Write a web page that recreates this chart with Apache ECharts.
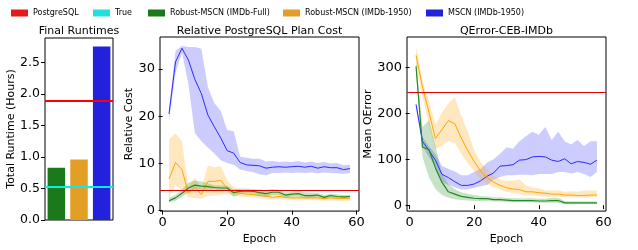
<!DOCTYPE html>
<html>
<head>
<meta charset="utf-8">
<script src="https://cdn.jsdelivr.net/npm/echarts@6/dist/echarts.min.js"></script>
<style>
  html, body { margin: 0; padding: 0; background: #fff; }
  #main { width: 638px; height: 250px; }
</style>
</head>
<body>
<div id="main"></div>
<script>
// Final runtimes (left panel)
const runtimeModels = ["Robust-MSCN (IMDb-Full)", "Robust-MSCN (IMDb-1950)", "MSCN (IMDb-1950)"];
const runtimeHours = [0.83, 0.96, 2.75];
const postgresRuntime = 1.89;
const trueRuntime = 0.53;

// training epochs (middle and right panels)
const epochs = [2, 4, 6, 8, 10, 12, 14, 16, 18, 20, 22, 24, 26, 28, 30, 32, 34, 36, 38, 40, 42, 44, 46, 48, 50, 52, 54, 56, 58];

// Relative PostgreSQL plan cost
const postgresCost = 4.4;
const costMscn = [20.5, 31.5, 34.4, 31.9, 27.8, 24.8, 20.3, 17.8, 15.4, 12.7, 12.2, 10.2, 9.7, 9.6, 9.5, 9.0, 9.2, 9.3, 9.2, 9.3, 9.4, 9.2, 9.4, 9.0, 9.3, 9.1, 9.1, 8.7, 8.9];
const costMscnHi = [21.5, 33.9, 34.9, 34.7, 34.7, 34.3, 26.2, 22.8, 21.1, 17.1, 16.8, 11.4, 11.2, 11.0, 11.0, 10.4, 10.5, 10.3, 10.4, 10.3, 10.5, 10.2, 10.4, 10.1, 10.3, 10.0, 10.1, 9.6, 9.7];
const costMscnLo = [19.1, 29.2, 33.5, 26.8, 16.4, 14.7, 13.4, 12.1, 10.7, 10.1, 9.7, 8.7, 8.4, 8.2, 7.7, 7.5, 8.0, 8.0, 8.1, 8.0, 8.1, 8.0, 8.1, 7.9, 8.1, 8.0, 7.9, 7.8, 8.0];
const cost1950 = [6.7, 10.2, 8.7, 3.7, 5.0, 3.4, 6.2, 6.2, 6.4, 4.7, 3.9, 3.7, 3.5, 3.4, 3.2, 3.1, 2.8, 3.0, 2.8, 2.7, 2.7, 2.7, 2.7, 2.7, 2.6, 2.7, 2.6, 2.6, 2.6];
const cost1950Hi = [15.1, 16.4, 14.7, 5.0, 7.0, 4.7, 9.5, 9.2, 9.4, 6.4, 5.0, 4.4, 4.2, 4.1, 3.9, 3.8, 3.4, 3.6, 3.3, 3.2, 3.2, 3.2, 3.2, 3.2, 3.1, 3.2, 3.1, 3.1, 3.1];
const cost1950Lo = [2.7, 5.4, 4.3, 2.8, 2.7, 2.5, 3.1, 3.2, 3.3, 3.5, 3.2, 3.0, 2.9, 2.8, 2.6, 2.5, 2.3, 2.4, 2.3, 2.2, 2.2, 2.2, 2.2, 2.2, 2.1, 2.2, 2.1, 2.1, 2.1];
const costFull = [2.1, 2.7, 3.7, 4.8, 5.4, 5.2, 5.1, 4.9, 4.8, 4.8, 3.8, 4.1, 4.2, 4.1, 3.8, 3.6, 3.9, 3.9, 3.3, 3.5, 3.6, 3.2, 3.2, 3.3, 2.8, 3.2, 3.0, 2.9, 3.0];
const costFullHi = [2.8, 3.3, 4.5, 5.9, 6.4, 6.2, 5.8, 5.4, 5.3, 5.3, 4.5, 4.7, 4.7, 4.6, 4.5, 4.3, 4.6, 4.4, 3.8, 4.0, 4.2, 3.9, 3.8, 3.7, 3.3, 3.6, 3.4, 3.3, 3.3];
const costFullLo = [1.6, 2.1, 2.9, 3.9, 4.4, 4.4, 4.4, 4.4, 4.3, 4.2, 2.9, 3.5, 3.7, 3.6, 3.1, 2.9, 3.3, 3.3, 2.8, 3.0, 3.0, 2.6, 2.6, 2.8, 2.3, 2.8, 2.6, 2.5, 2.6];

// QError on CEB-IMDb
const postgresQError = 245;
const qMscn = [219, 139, 119, 98, 67, 60, 51, 43, 43, 46, 53, 63, 70, 85, 86, 88, 98, 99, 105, 106, 105, 98, 95, 101, 90, 95, 93, 89, 98];
const qMscnHi = [225, 149, 128, 112, 85, 79, 73, 65, 65, 72, 79, 93, 100, 112, 126, 123, 139, 150, 160, 153, 170, 142, 160, 139, 132, 142, 128, 139, 139];
const qMscnLo = [210, 128, 104, 85, 51, 44, 39, 34, 34, 38, 41, 44, 55, 61, 65, 65, 66, 66, 65, 68, 68, 68, 72, 72, 69, 72, 68, 61, 72];
const q1950 = [326, 257, 202, 145, 164, 184, 177, 146, 119, 95, 74, 60, 50, 43, 38, 35, 34, 29, 29, 27, 26, 24, 24, 22, 22, 21, 21, 22, 22];
const q1950Hi = [346, 270, 226, 175, 201, 222, 235, 194, 160, 119, 94, 77, 63, 56, 53, 53, 56, 43, 39, 37, 32, 32, 32, 29, 30, 29, 32, 32, 32];
const q1950Lo = [305, 236, 174, 122, 129, 139, 136, 112, 91, 74, 56, 46, 39, 34, 29, 26, 24, 21, 21, 20, 19, 18, 18, 17, 17, 16, 16, 17, 17];
const qFull = [302, 126, 121, 81, 50, 29, 24, 19, 17, 15, 14, 14, 12, 12, 11, 10, 10, 10, 10, 9, 9, 10, 10, 5, 5, 5, 5, 5, 5];
const qFullHi = [315, 170, 185, 130, 70, 45, 35, 28, 25, 22, 20, 19, 17, 17, 16, 15, 15, 15, 15, 14, 14, 16, 16, 9, 8, 8, 8, 8, 8];
const qFullLo = [290, 105, 60, 35, 22, 16, 13, 11, 10, 9, 9, 9, 8, 8, 7, 6, 6, 6, 6, 5, 5, 5, 5, 2, 2, 2, 2, 2, 2];

const FONT = "DejaVu Sans";
const C_RED = "#e41a1c";
const C_CYAN = "#22dede";
const C_FULL = "#1a7a1a";
const C_1950 = "#e39e25";
const C_MSCN = "#2222dd";

const chart = echarts.init(document.getElementById("main"), null, { renderer: "canvas" });

// shaded band between lo and hi, drawn as one polygon through the axis scales
function band(idx, lo, hi, fill) {
  return {
    type: "custom",
    xAxisIndex: idx,
    yAxisIndex: idx,
    silent: true,
    clip: true,
    z: 1,
    data: epochs.map((e, i) => [e, lo[i], hi[i]]),
    encode: { x: 0, y: [1, 2] },
    renderItem(params, api) {
      if (params.dataIndex !== 0) return null;
      const pts = [];
      epochs.forEach((e, i) => pts.push(api.coord([e, hi[i]])));
      for (let i = epochs.length - 1; i >= 0; i--) pts.push(api.coord([epochs[i], lo[i]]));
      return { type: "polygon", shape: { points: pts }, style: { fill } };
    },
  };
}

function curve(idx, name, values, color, width) {
  return {
    name,
    type: "line",
    xAxisIndex: idx,
    yAxisIndex: idx,
    data: epochs.map((e, i) => [e, values[i]]),
    symbol: "none",
    z: 3,
    lineStyle: { color, width: width || 1 },
    itemStyle: { color },
  };
}

function hline(idx, name, value, color, width) {
  return {
    name,
    type: "line",
    xAxisIndex: idx,
    yAxisIndex: idx,
    data: [],
    itemStyle: { color },
    z: 4,
    markLine: {
      silent: true,
      symbol: "none",
      label: { show: false },
      lineStyle: { color, width, type: "solid" },
      data: [{ yAxis: value }],
    },
  };
}

const tickStyle = { show: true, length: 4, lineStyle: { color: "#000", width: 1 } };
const labelStyle = { color: "#000", fontFamily: FONT, fontSize: 13, margin: 5 };
const nameStyle = { color: "#000", fontFamily: FONT, fontSize: 11 };

function epochAxis(idx) {
  return {
    type: "value",
    gridIndex: idx,
    min: -0.8,
    max: 60.8,
    name: "Epoch",
    nameLocation: "middle",
    nameGap: 20,
    nameTextStyle: nameStyle,
    axisLine: { show: false },
    axisTick: Object.assign({ customValues: [0, 20, 40, 60] }, tickStyle),
    axisLabel: Object.assign({ customValues: [0, 20, 40, 60] }, labelStyle, { margin: 5 }),
    splitLine: { show: false },
  };
}

function valueAxis(idx, min, max, ticks, name, gap, fmt) {
  return {
    type: "value",
    gridIndex: idx,
    min,
    max,
    name,
    nameLocation: "middle",
    nameGap: gap,
    nameTextStyle: nameStyle,
    axisLine: { show: false },
    axisTick: Object.assign({ customValues: ticks }, tickStyle),
    axisLabel: Object.assign({ customValues: ticks, formatter: fmt }, labelStyle, idx === 0 ? { fontSize: 12.5 } : {}),
    splitLine: { show: false },
  };
}

function legendAt(left, name, color) {
  return {
    left,
    top: 9,
    padding: 0,
    icon: "rect",
    itemWidth: 17,
    itemHeight: 7,
    selectedMode: false,
    textStyle: { color: "#000", fontFamily: FONT, fontSize: 8, padding: [1, 0, 0, 0] },
    data: [{ name, itemStyle: { color } }],
  };
}

function titleText(x, text) {
  return {
    type: "text",
    x,
    y: 31,
    style: { text, fill: "#000", font: "11px '" + FONT + "'", textAlign: "center", textVerticalAlign: "middle" },
  };
}

const gridBox = { show: true, borderColor: "#000", borderWidth: 1, backgroundColor: "transparent" };

const option = {
  animation: false,
  backgroundColor: "#fff",
  textStyle: { fontFamily: FONT },
  legend: [
    legendAt(11, "PostgreSQL", C_RED),
    legendAt(93, "True", C_CYAN),
    legendAt(148, "Robust-MSCN (IMDb-Full)", C_FULL),
    legendAt(283, "Robust-MSCN (IMDb-1950)", C_1950),
    legendAt(426, "MSCN (IMDb-1950)", C_MSCN),
  ],
  graphic: [
    titleText(79, "Final Runtimes"),
    titleText(259.5, "Relative PostgreSQL Plan Cost"),
    titleText(506.5, "QError-CEB-IMDb"),
  ],
  grid: [
    Object.assign({ left: 45, top: 38, width: 68, height: 182 }, gridBox),
    Object.assign({ left: 160, top: 37, width: 199, height: 183 }, gridBox),
    Object.assign({ left: 407, top: 37, width: 199, height: 183 }, gridBox),
  ],
  xAxis: [
    {
      type: "category",
      gridIndex: 0,
      data: runtimeModels,
      axisLine: { show: false },
      axisTick: { show: false },
      axisLabel: { show: false },
    },
    epochAxis(1),
    epochAxis(2),
  ],
  yAxis: [
    valueAxis(0, 0, 2.885, [0, 0.5, 1, 1.5, 2, 2.5], "Total Runtime (Hours)", 25, (v) => v.toFixed(1)),
    valueAxis(1, -0.1, 36.8, [0, 10, 20, 30], "Relative Cost", 24),
    valueAxis(2, -13, 366, [0, 100, 200, 300], "Mean QError", 31),
  ],
  series: [
    {
      name: "Final Runtime",
      type: "bar",
      xAxisIndex: 0,
      yAxisIndex: 0,
      barWidth: 17.5,
      z: 2,
      data: runtimeHours.map((v, i) => ({ value: v, itemStyle: { color: [C_FULL, C_1950, C_MSCN][i] } })),
    },
    hline(0, "PostgreSQL", postgresRuntime, "#ff0000", 2),
    hline(0, "True", trueRuntime, "#00f0f0", 2),

    band(1, costMscnLo, costMscnHi, "rgba(0,0,255,0.2)"),
    band(1, cost1950Lo, cost1950Hi, "rgba(255,165,0,0.25)"),
    band(1, costFullLo, costFullHi, "rgba(34,139,34,0.25)"),
    curve(1, "MSCN (IMDb-1950)", costMscn, "#2a2aff"),
    curve(1, "Robust-MSCN (IMDb-1950)", cost1950, "#ffa500"),
    curve(1, "Robust-MSCN (IMDb-Full)", costFull, "#228b22", 1.2),
    hline(1, "PostgreSQL", postgresCost, "#e00000", 1),

    band(2, qMscnLo, qMscnHi, "rgba(0,0,255,0.2)"),
    band(2, q1950Lo, q1950Hi, "rgba(255,165,0,0.25)"),
    band(2, qFullLo, qFullHi, "rgba(34,139,34,0.25)"),
    curve(2, "MSCN (IMDb-1950)", qMscn, "#2a2aff"),
    curve(2, "Robust-MSCN (IMDb-1950)", q1950, "#ffa500"),
    curve(2, "Robust-MSCN (IMDb-Full)", qFull, "#228b22", 1.2),
    hline(2, "PostgreSQL", postgresQError, "#e00000", 1),
  ],
};

chart.setOption(option);
</script>
</body>
</html>
